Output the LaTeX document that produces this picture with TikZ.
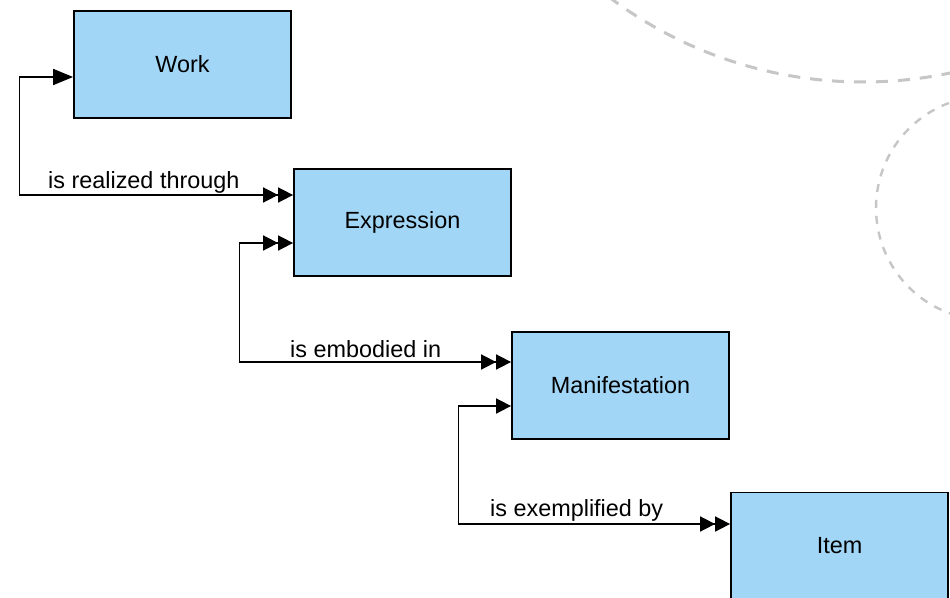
\documentclass[tikz,border=0pt]{standalone}
\usepackage{fontspec}
\setmainfont{Liberation Sans}
\usetikzlibrary{arrows.meta}
\definecolor{boxblue}{RGB}{162,214,246}
\definecolor{dashgray}{RGB}{198,198,198}
\tikzset{
  entity/.style={draw=black, line width=1.8pt, fill=boxblue, minimum width=217pt, minimum height=107pt, inner sep=0pt, font=\fontsize{23.4}{27}\selectfont},
  conn/.style={draw=black, line width=1.7pt},
  lbl/.style={inner sep=0pt, anchor=base west, font=\fontsize{23.4}{27}\selectfont},
  one/.tip={Triangle[length=15pt,width=15pt]},
  onebig/.tip={Triangle[length=20pt,width=16pt]},
  many/.tip={Triangle[length=15pt,width=15pt] Triangle[length=15pt,width=15pt]},
  arcline/.style={draw=dashgray, line width=3pt, dash pattern=on 12pt off 10pt},
  arcsmall/.style={draw=dashgray, line width=2.4pt, dash pattern=on 8pt off 8pt}
}
\begin{document}
\begin{tikzpicture}[x=1pt,y=-1pt]
\useasboundingbox (0,0) rectangle (950,597);
\clip (0,0) rectangle (950,597);
\fill[white] (0,0) rectangle (950,597);
% background dashed circles
\draw[arcline] (863,-340) circle (422);
\draw[arcsmall] (988,208) circle (112);
% entities
\node[entity] (work) at (182.5,64.5) {Work};
\node[entity] (expr) at (402.5,222.5) {Expression};
\node[entity] (manif) at (620.5,385.5) {Manifestation};
\node[entity] (item) at (839.5,546) {Item};
% connectors
\draw[conn, {onebig}-{many}] ([yshift=-12.5pt]work.west) -- ++(-53.5,0) |- ([yshift=27.5pt]expr.west);
\draw[conn, {many}-{many}] ([yshift=-20.5pt]expr.west) -- ++(-53.5,0) |- ([yshift=23.5pt]manif.west);
\draw[conn, {one}-{many}] ([yshift=-20.5pt]manif.west) -- ++(-52.5,0) |- ([yshift=22pt]item.west);
% labels
\node[lbl] (l1) at (48,188) {is realized through};
\node[lbl] (l2) at (290,357) {is embodied in};
\node[lbl] (l3) at (490,516) {is exemplified by};
\end{tikzpicture}
\end{document}
